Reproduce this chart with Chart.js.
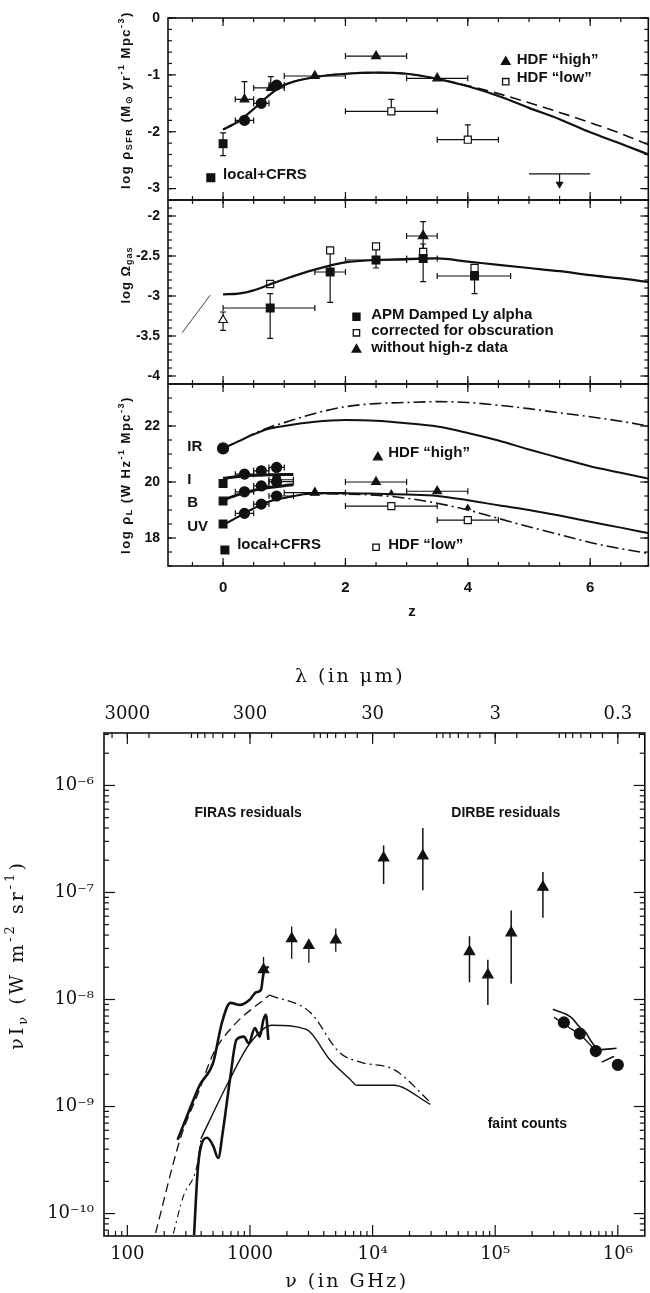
<!DOCTYPE html>
<html>
<head>
<meta charset="utf-8">
<script src="https://cdn.jsdelivr.net/npm/chart.js"></script>
<style>
html, body { margin: 0; padding: 0; background: #fff; }
#wrap { position: relative; width: 650px; height: 1293px; overflow: hidden; background: #fff; }
canvas { position: absolute; left: 0; }
</style>
</head>
<body>
<div id="wrap">
  <canvas id="sfr" width="655" height="220" style="top:0px"></canvas>
  <canvas id="gas" width="655" height="224" style="top:180px"></canvas>
  <canvas id="lum" width="655" height="261" style="top:364px"></canvas>
  <canvas id="cib" width="652" height="653" style="top:640px"></canvas>
</div>
<script>
// ---- redshift panels: rows are [z, value, zLo, zHi, lo, hi]
const zTicks = [0, 2, 4, 6];
const zCurve = [0, 0.25, 0.5, 0.75, 1, 1.5, 2, 2.5, 3, 3.5, 4, 4.5, 5, 5.5, 6, 6.5, 7];
const zBand = [0, 0.25, 0.5, 0.75, 1.0, 1.15];

// log rho_SFR
const sfrTicks = [0, -1, -2, -3];
const sfrLocal = [[0, -2.21, null, null, -2.42, -2.02]];
const sfrCfrs = [[0.35, -1.8, 0.2, 0.5], [0.625, -1.5, 0.5, 0.75], [0.875, -1.18, 0.75, 1.0]];
const sfrHigh = [[0.35, -1.43, 0.2, 0.5, -1.43, -1.12], [0.78, -1.23, 0.5, 1.0, -1.23, -1.03],
                 [1.5, -1.02, 1.0, 2.0], [2.5, -0.67, 2.0, 3.0], [3.5, -1.06, 3.0, 4.0]];
const sfrLow = [[2.75, -1.64, 2.0, 3.5, -1.64, -1.43], [4.0, -2.14, 3.5, 4.5, -2.14, -1.88]];
const sfrLimit = [[5.5, -2.74, 5.0, 6.0, -2.92, -2.74]];
const sfrLimitTip = [[5.5, -2.92]];
const sfrModel = [-1.96, -1.82, -1.6, -1.36, -1.18, -1.04, -0.98, -0.96, -0.98, -1.07, -1.2, -1.37, -1.58, -1.78, -2.01, -2.21, -2.42];
const sfrModelAlt = [-1.96, -1.82, -1.6, -1.36, -1.18, -1.04, -0.98, -0.96, -0.98, -1.07, -1.19, -1.33, -1.49, -1.66, -1.84, -2.03, -2.25];

// log Omega_gas
const gasTicks = [-2, -2.5, -3, -3.5, -4];
const gasApm = [[0.77, -3.15, 0, 1.5, -3.53, -2.97], [1.75, -2.7, 1.5, 2.0, -3.08, -2.45], [2.5, -2.55, 2.0, 3.0, -2.65, -2.4],
                [3.27, -2.53, 3.0, 3.5, -2.82, -2.35], [4.11, -2.75, 3.5, 4.7, -2.97, -2.63]];
const gasCorrected = [[0.77, -2.85], [1.75, -2.43], [2.5, -2.38], [3.27, -2.45], [4.11, -2.65]];
const gasNoHighZ = [[3.27, -2.25, 3.0, 3.5, -2.47, -2.07]];
const gasLocal = [[0, -3.3, null, null, -3.43, -3.2]];
const gasModel = [-2.98, -2.97, -2.93, -2.86, -2.79, -2.67, -2.58, -2.55, -2.54, -2.53, -2.57, -2.61, -2.65, -2.69, -2.74, -2.78, -2.83];
const gasStubZ = [-0.67, -0.21];
const gasStub = [-3.46, -2.99];

// log rho_L
const lumTicks = [18, 20, 22];
const lumIrLocal = [[0, 21.2]];
const lumLocal = [[0, 19.95], [0, 19.32], [0, 18.5]];
const lumI = [[0.35, 20.28, 0.2, 0.5], [0.625, 20.4, 0.5, 0.75], [0.875, 20.52, 0.75, 1.0]];
const lumIsq = [[0.875, 20.08, 0.75, 1.15]];
const lumB = [[0.35, 19.65, 0.2, 0.5], [0.625, 19.86, 0.5, 0.75], [0.875, 20.01, 0.75, 1.15]];
const lumUV = [[0.35, 18.88, 0.2, 0.5], [0.625, 19.21, 0.5, 0.75], [0.875, 19.5, 0.75, 1.15]];
const lumHigh = [[1.5, 19.62, 1.0, 2.0], [2.5, 20.0, 2.0, 3.0], [3.5, 19.67, 3.0, 4.0]];
const lumHighSmall = [[2.75, 19.6], [4.0, 19.08]];
const lumLow = [[2.75, 19.14, 2.0, 3.5], [4.0, 18.64, 3.5, 4.5]];
const irModel = [21.2, 21.45, 21.7, 21.9, 22.0, 22.15, 22.21, 22.19, 22.1, 21.98, 21.75, 21.48, 21.16, 20.86, 20.56, 20.33, 20.1];
const irModelAlt = [21.2, 21.45, 21.72, 21.95, 22.12, 22.45, 22.69, 22.8, 22.84, 22.87, 22.84, 22.74, 22.62, 22.47, 22.33, 22.17, 21.98];
const iModel = [20.13, 20.2, 20.24, 20.26, 20.27, 20.27];
const bModel = [19.36, 19.55, 19.7, 19.8, 19.87, 19.9];
const uvModel = [18.46, 18.76, 19.06, 19.3, 19.43, 19.6, 19.6, 19.58, 19.55, 19.5, 19.35, 19.17, 19.0, 18.8, 18.58, 18.37, 18.15];
const uvModelAlt = [18.46, 18.76, 19.06, 19.3, 19.43, 19.58, 19.57, 19.53, 19.42, 19.24, 19.0, 18.7, 18.4, 18.12, 17.84, 17.62, 17.43];

// ---- background spectrum: rows are [nu (GHz), nu I_nu, , , lo, hi]
const nuTicks = [100, 1000, 1e4, 1e5, 1e6];
const nuTickLabels = ['100', '1000', '10⁴', '10⁵', '10⁶'];
const lambdaTickLabels = ['3000', '300', '30', '3', '0.3'];
const intTicks = [1e-10, 1e-9, 1e-8, 1e-7, 1e-6];
const intTickLabels = ['10⁻¹⁰', '10⁻⁹', '10⁻⁸', '10⁻⁷', '10⁻⁶'];

const firas = [[1290, 1.9e-8, null, null, 1.6e-8, 2.5e-8], [2190, 3.7e-8, null, null, 2.4e-8, 4.8e-8],
               [3020, 3.2e-8, null, null, 2.2e-8, 3.2e-8], [5010, 3.6e-8, null, null, 2.8e-8, 4.6e-8]];
const dirbe = [[12300, 2.1e-7, null, null, 1.2e-7, 2.75e-7], [25700, 2.2e-7, null, null, 1.05e-7, 4.0e-7],
               [61700, 2.8e-8, null, null, 1.45e-8, 3.9e-8], [87100, 1.7e-8, null, null, 8.9e-9, 2.35e-8],
               [135000, 4.2e-8, null, null, 1.4e-8, 6.8e-8], [245000, 1.12e-7, null, null, 5.8e-8, 1.55e-7]];
const faint = [[363000, 6.1e-9], [490000, 4.8e-9], [661000, 3.3e-9], [1000000, 2.45e-9]];

const obsNu = [257, 316, 389, 501, 589, 692, 832, 1000, 1122, 1230, 1288, 1413];
const obsFlux = [4.9e-10, 8.9e-10, 1.58e-9, 2.57e-9, 6.0e-9, 9.3e-9, 8.9e-9, 1.0e-8, 1.17e-8, 1.23e-8, 1.74e-8, 2.04e-8];
const obsLowNu = [350, 372, 389, 447, 501, 550, 603, 692, 776, 891, 977, 1096, 1202, 1288, 1349, 1413];
const obsLowFlux = [6.3e-11, 2.24e-10, 3.7e-10, 5.1e-10, 4.3e-10, 3.3e-10, 6.0e-10, 1.9e-9, 4.2e-9, 4.5e-9, 3.9e-9, 5.4e-9, 4.5e-9, 6.5e-9, 7.2e-9, 4.2e-9];
const modelRiseNu = [170, 269, 389, 501, 724, 1445];
const modelRiseFlux = [6.6e-11, 4.9e-10, 1.45e-9, 3.1e-9, 5.6e-9, 1.1e-8];
const modelFallNu = [1445, 3090, 5370, 7940, 15100, 30200];
const modelFallFlux = [1.1e-8, 7.6e-9, 3.2e-9, 2.6e-9, 2.2e-9, 1.07e-9];
const modelLowNu = [398, 661, 1000, 1514, 2884, 4467, 6607, 7413, 14790, 29510];
const modelLowFlux = [5.0e-10, 1.66e-9, 3.9e-9, 5.75e-9, 5.25e-9, 2.75e-9, 1.78e-9, 1.58e-9, 1.58e-9, 1.05e-9];
const modelTailNu = [237, 286, 368, 398];
const modelTailFlux = [6.5e-11, 1.45e-10, 2.75e-10, 5.0e-10];
const countsNu = [295000, 417000, 490000, 550000, 603000, 708000, 977000];
const countsFlux = [8.1e-9, 6.8e-9, 5.5e-9, 4.9e-9, 4.1e-9, 3.4e-9, 3.5e-9];
const countsAltNu = [302000, 398000, 525000, 631000];
const countsAltFlux = [6.8e-9, 5.5e-9, 4.4e-9, 3.5e-9];
const countsEndNu = [741000, 933000];
const countsEndFlux = [2.6e-9, 2.95e-9];

const sans = "'Liberation Sans', Arial, sans-serif";
const serif = "'DejaVu Serif', 'Liberation Serif', serif";
const ink = '#111';
Chart.defaults.font.family = sans;
Chart.defaults.color = ink;

function steps(from, to, step) {
    var out = [];
    for (var v = from; v <= to + 1e-9; v += step) out.push(Math.round(v * 1000) / 1000);
    return out;
}

function logMinor(lo, hi) {
    var out = [];
    for (var e = lo; e < hi; e++) {
        for (var k = 2; k <= 9; k++) out.push(k * Math.pow(10, e));
    }
    return out;
}

function marks(rows, style, extra) {
    return Object.assign({
        data: rows.map(r => ({x: r[0], y: r[1], xMin: r[2], xMax: r[3], yMin: r[4], yMax: r[5]})),
        pointStyle: style,
        pointRadius: 4.5,
        backgroundColor: ink,
        borderColor: ink,
        borderWidth: 1.2,
        errorBars: true
    }, extra || {});
}

function curve(xs, ys, width, dash) {
    return {
        data: xs.map((x, i) => ({x: x, y: ys[i]})),
        showLine: true,
        pointRadius: 0,
        borderColor: ink,
        borderWidth: width,
        borderDash: dash || [],
        cubicInterpolationMode: 'monotone'
    };
}

// text with _{sub} and ^{sup}
function drawRich(ctx, s, x, y, o) {
    var parts = [], re = /([_^])\{([^}]*)\}|([^_^]+)/g, m;
    while ((m = re.exec(s))) {
        if (m[3]) parts.push({t: m[3], k: 0});
        else parts.push({t: m[2], k: m[1] === '_' ? -1 : 1});
    }
    var size = o.size, w = 0;
    var fontFor = p => (o.bold ? 'bold ' : '') + (p.k ? Math.round(size * 0.68) : size) + 'px ' + o.family;
    ctx.save();
    ctx.letterSpacing = (o.spacing || 0) + 'px';
    parts.forEach(p => { ctx.font = fontFor(p); p.w = ctx.measureText(p.t).width; w += p.w; });
    ctx.translate(x, y);
    if (o.rot) ctx.rotate(o.rot * Math.PI / 180);
    ctx.textBaseline = 'middle';
    ctx.textAlign = 'left';
    ctx.fillStyle = ink;
    var cx = o.align === 'left' ? 0 : o.align === 'right' ? -w : -w / 2;
    parts.forEach(p => {
        ctx.font = fontFor(p);
        ctx.fillText(p.t, cx, p.k < 0 ? size * 0.3 : p.k > 0 ? -size * 0.38 : 0);
        cx += p.w;
    });
    ctx.restore();
}

const errorBarPlugin = {
    id: 'errorBars',
    beforeDatasetsDraw(chart) {
        const ctx = chart.ctx;
        ctx.save();
        ctx.strokeStyle = ink;
        chart.data.datasets.forEach((ds, i) => {
            if (!ds.errorBars) return;
            const meta = chart.getDatasetMeta(i), xs = meta.xScale, ys = meta.yScale;
            const cap = ds.capSize == null ? 3 : ds.capSize;
            ctx.lineWidth = ds.errWidth || 1.2;
            ds.data.forEach(p => {
                const px = xs.getPixelForValue(p.x), py = ys.getPixelForValue(p.y);
                ctx.beginPath();
                if (p.xMin != null) {
                    const a = xs.getPixelForValue(p.xMin), b = xs.getPixelForValue(p.xMax);
                    ctx.moveTo(a, py); ctx.lineTo(b, py);
                    if (cap) {
                        ctx.moveTo(a, py - cap); ctx.lineTo(a, py + cap);
                        ctx.moveTo(b, py - cap); ctx.lineTo(b, py + cap);
                    }
                }
                if (p.yMin != null) {
                    const a = ys.getPixelForValue(p.yMin), b = ys.getPixelForValue(p.yMax);
                    ctx.moveTo(px, a); ctx.lineTo(px, b);
                    if (cap) {
                        ctx.moveTo(px - cap, a); ctx.lineTo(px + cap, a);
                        ctx.moveTo(px - cap, b); ctx.lineTo(px + cap, b);
                    }
                }
                ctx.stroke();
            });
        });
        ctx.restore();
    }
};

// box around the plot with inward ticks on all sides
const framePlugin = {
    id: 'frame',
    afterDatasetsDraw(chart, args, o) {
        const ctx = chart.ctx, a = chart.chartArea, xs = chart.scales.x, ys = chart.scales.y;
        ctx.save();
        ctx.strokeStyle = ink;
        ctx.lineWidth = 1.6;
        ctx.strokeRect(a.left, a.top, a.right - a.left, a.bottom - a.top);
        ctx.lineWidth = 1.2;
        const inside = (s, v) => v >= Math.min(s.min, s.max) && v <= Math.max(s.min, s.max);
        const seg = (x1, y1, x2, y2) => { ctx.beginPath(); ctx.moveTo(x1, y1); ctx.lineTo(x2, y2); ctx.stroke(); };
        const xt = (vals, len, bottom, top) => vals.forEach(v => {
            if (!inside(xs, v)) return;
            const p = xs.getPixelForValue(v);
            if (bottom) seg(p, a.bottom, p, a.bottom - len);
            if (top) seg(p, a.top, p, a.top + len);
        });
        const yt = (vals, len) => vals.forEach(v => {
            if (!inside(ys, v)) return;
            const p = ys.getPixelForValue(v);
            seg(a.left, p, a.left + len, p);
            seg(a.right, p, a.right - len, p);
        });
        const hasTop = !!o.xTopMajor;
        xt(o.xMajor, o.major, true, !hasTop);
        xt(o.xMinor, o.minor, true, !hasTop);
        if (hasTop) {
            xt(o.xTopMajor, o.major, false, true);
            xt(o.xTopMinor, o.minor, false, true);
        }
        yt(o.yMajor, o.major);
        yt(o.yMinor, o.minor);
        ctx.restore();
    }
};

const notesPlugin = {
    id: 'notes',
    afterDraw(chart, args, o) {
        const ctx = chart.ctx, xs = chart.scales.x, ys = chart.scales.y;
        (o.items || []).forEach(n => {
            if (n.mark) {
                ctx.save();
                ctx.fillStyle = n.open ? '#fff' : ink;
                ctx.strokeStyle = ink;
                ctx.lineWidth = 1.3;
                Chart.helpers.drawPoint(ctx, {pointStyle: n.mark, radius: n.r || 5, rotation: 0, borderWidth: 1.3},
                    xs.getPixelForValue(n.mx), ys.getPixelForValue(n.my));
                ctx.restore();
            }
            if (n.t) {
                const x = n.px != null ? n.px : xs.getPixelForValue(n.x);
                const y = n.py != null ? n.py : ys.getPixelForValue(n.y);
                drawRich(ctx, n.t, x, y, Object.assign({size: 15, bold: true, family: sans, align: 'left'}, n));
            }
        });
    }
};

function zPanel(id, cfg) {
    return new Chart(document.getElementById(id), {
        type: 'scatter',
        data: {datasets: cfg.datasets},
        options: {
            responsive: false,
            animation: false,
            layout: {padding: {top: cfg.padTop, bottom: cfg.padBottom, left: 0, right: 1}},
            plugins: {
                legend: {display: false},
                tooltip: {enabled: false},
                frame: {
                    xMajor: zTicks, xMinor: steps(-0.5, 7, 0.5),
                    yMajor: cfg.yTicks, yMinor: steps(cfg.yMin, cfg.yMax, cfg.yStep),
                    major: 8, minor: 4
                },
                notes: {items: cfg.notes}
            },
            scales: {
                x: {
                    type: 'linear', min: -0.9, max: 6.95,
                    display: cfg.showX,
                    grid: {display: false, drawTicks: false},
                    border: {display: false},
                    ticks: {padding: 13, font: {size: 15, weight: 'bold'}, callback: v => String(v)},
                    afterBuildTicks: s => { s.ticks = zTicks.map(v => ({value: v})); },
                    afterFit: s => { s.height = cfg.showX ? 59 : 0; }
                },
                y: {
                    type: 'linear', min: cfg.yMin, max: cfg.yMax,
                    grid: {display: false, drawTicks: false},
                    border: {display: false},
                    ticks: {padding: 8, font: {size: 14, weight: 'bold'}, callback: v => String(v)},
                    afterBuildTicks: s => { s.ticks = cfg.yTicks.map(v => ({value: v})); },
                    afterFit: s => { s.width = 168; }
                }
            }
        },
        plugins: [errorBarPlugin, framePlugin, notesPlugin]
    });
}

zPanel('sfr', {
    padTop: 18, padBottom: 20, showX: false,
    yMin: -3.2, yMax: 0, yStep: 0.2, yTicks: sfrTicks,
    datasets: [
        curve(zCurve, sfrModelAlt, 1.6, [11, 6]),
        curve(zCurve, sfrModel, 2.2),
        marks(sfrLocal, 'rect', {pointRadius: 5.5}),
        marks(sfrCfrs, 'circle', {pointRadius: 5}),
        marks(sfrHigh, 'triangle', {pointRadius: 5}),
        marks(sfrLow, 'rect', {pointRadius: 5, backgroundColor: '#fff'}),
        marks(sfrLimit, 'circle', {pointRadius: 0, capSize: 0}),
        marks(sfrLimitTip, 'triangle', {pointRadius: 3.5, rotation: 180})
    ],
    notes: [
        {mark: 'triangle', mx: 4.62, my: -0.77, t: 'HDF “high”', x: 4.8, y: -0.74},
        {mark: 'rect', open: true, r: 4.5, mx: 4.62, my: -1.12, t: 'HDF “low”', x: 4.8, y: -1.05},
        {mark: 'rect', r: 5.5, mx: -0.2, my: -2.81, t: 'local+CFRS', x: 0.0, y: -2.75},
        {t: 'log ρ_{SFR} (M_{⊙} yr^{-1} Mpc^{-3})', px: 126, py: 100, rot: -90, size: 13, spacing: 1.5, align: 'center'}
    ]
});

zPanel('gas', {
    padTop: 20, padBottom: 20, showX: false,
    yMin: -4.1, yMax: -1.8, yStep: 0.1, yTicks: gasTicks,
    datasets: [
        curve(zCurve, gasModel, 2.2),
        curve(gasStubZ, gasStub, 0.8),
        marks(gasLocal, 'triangle', {pointRadius: 5, backgroundColor: '#fff'}),
        marks(gasApm, 'rect', {pointRadius: 5.5}),
        marks(gasCorrected, 'rect', {pointRadius: 5, backgroundColor: '#fff'}),
        marks(gasNoHighZ, 'triangle', {pointRadius: 5.5})
    ],
    notes: [
        {mark: 'rect', r: 5, mx: 2.18, my: -3.26, t: 'APM Damped Ly alpha', x: 2.42, y: -3.24},
        {mark: 'rect', open: true, r: 4.5, mx: 2.18, my: -3.46, t: 'corrected for obscuration', x: 2.42, y: -3.43},
        {mark: 'triangle', mx: 2.18, my: -3.67, t: 'without high-z data', x: 2.42, y: -3.65},
        {t: 'log Ω_{gas}', px: 126, py: 95, rot: -90, size: 13, spacing: 1, align: 'center'}
    ]
});

zPanel('lum', {
    padTop: 20, padBottom: 0, showX: true,
    yMin: 17, yMax: 23.5, yStep: 0.5, yTicks: lumTicks,
    datasets: [
        curve(zCurve, irModelAlt, 1.6, [12, 4, 2, 4]),
        curve(zCurve, irModel, 2),
        curve(zCurve, uvModelAlt, 1.6, [12, 4, 2, 4]),
        curve(zCurve, uvModel, 2),
        curve(zBand, iModel, 3),
        curve(zBand, bModel, 3),
        marks(lumIrLocal, 'circle', {pointRadius: 5.5}),
        marks(lumLocal, 'rect', {pointRadius: 5.5}),
        marks(lumI, 'circle', {pointRadius: 5}),
        marks(lumIsq, 'rect', {pointRadius: 5}),
        marks(lumB, 'circle', {pointRadius: 5}),
        marks(lumUV, 'circle', {pointRadius: 5}),
        marks(lumHigh, 'triangle', {pointRadius: 5}),
        marks(lumHighSmall, 'triangle', {pointRadius: 3}),
        marks(lumLow, 'rect', {pointRadius: 5, backgroundColor: '#fff'})
    ],
    notes: [
        {t: 'IR', x: -0.585, y: 21.25},
        {t: 'I', x: -0.585, y: 20.07},
        {t: 'B', x: -0.585, y: 19.25},
        {t: 'UV', x: -0.585, y: 18.39},
        {mark: 'rect', r: 5.5, mx: 0.03, my: 17.57, t: 'local+CFRS', x: 0.23, y: 17.75},
        {mark: 'triangle', mx: 2.53, my: 20.88, t: 'HDF “high”', x: 2.7, y: 21.04},
        {mark: 'rect', open: true, r: 4.5, mx: 2.5, my: 17.67, t: 'HDF “low”', x: 2.7, y: 17.75},
        {t: 'log ρ_{L} (W Hz^{-1} Mpc^{-3})', px: 126, py: 111, rot: -90, size: 13, spacing: 1.5, align: 'center'},
        {t: 'z', px: 412, py: 248, size: 15, align: 'center'}
    ]
});

// ---- background spectrum
const lambdaMinorNu = logMinor(-1, 4).map(l => 3e5 / l);
const logAxis = (min, max, extra) => Object.assign({
    type: 'logarithmic', min: min, max: max,
    grid: {display: false, drawTicks: false},
    border: {display: false}
}, extra);

new Chart(document.getElementById('cib'), {
    type: 'scatter',
    data: {
        datasets: [
            curve(modelRiseNu, modelRiseFlux, 1.3, [9, 5]),
            curve(modelFallNu, modelFallFlux, 1.3, [9, 4, 2, 4]),
            curve(modelTailNu, modelTailFlux, 1.1, [7, 4, 2, 4]),
            curve(modelLowNu, modelLowFlux, 1.4),
            curve(obsNu, obsFlux, 2.6),
            curve(obsLowNu, obsLowFlux, 2.6),
            curve(countsNu, countsFlux, 1.6),
            curve(countsAltNu, countsAltFlux, 1.4),
            curve(countsEndNu, countsEndFlux, 1.6),
            marks(firas, 'triangle', {pointRadius: 6, capSize: 0, errWidth: 1.3}),
            marks(dirbe, 'triangle', {pointRadius: 6, capSize: 0, errWidth: 1.5}),
            marks(faint, 'circle', {pointRadius: 5.5})
        ]
    },
    options: {
        responsive: false,
        animation: false,
        layout: {padding: {top: 0, bottom: 0, left: 0, right: 5}},
        plugins: {
            legend: {display: false},
            tooltip: {enabled: false},
            frame: {
                xMajor: nuTicks, xMinor: logMinor(1, 7),
                xTopMajor: nuTicks, xTopMinor: lambdaMinorNu,
                yMajor: intTicks, yMinor: logMinor(-11, -5),
                major: 11, minor: 5
            },
            notes: {items: [
                {t: 'FIRAS residuals', x: 966, y: 5.5e-7, size: 14, align: 'center'},
                {t: 'DIRBE residuals', x: 1.22e5, y: 5.5e-7, size: 14, align: 'center'},
                {t: 'faint counts', x: 1.83e5, y: 6.8e-10, size: 14, align: 'center'},
                {t: 'λ (in μm)', px: 350, py: 37, size: 19, spacing: 2.5, bold: false, family: serif, align: 'center'},
                {t: 'ν (in GHz)', px: 347, py: 642, size: 19, spacing: 2.5, bold: false, family: serif, align: 'center'},
                {t: 'νI_{ν} (W m^{-2} sr^{-1})', px: 18, py: 315, size: 19, spacing: 3, bold: false, family: serif, rot: -90, align: 'center'}
            ]}
        },
        scales: {
            x: logAxis(64.5, 1.66e6, {
                position: 'bottom',
                ticks: {padding: 8, font: {family: serif, size: 18}, callback: (v, i) => nuTickLabels[i]},
                afterBuildTicks: s => { s.ticks = nuTicks.map(v => ({value: v})); },
                afterFit: s => { s.height = 57; }
            }),
            xTop: logAxis(64.5, 1.66e6, {
                position: 'top',
                ticks: {padding: 8, font: {family: serif, size: 18}, callback: (v, i) => lambdaTickLabels[i]},
                afterBuildTicks: s => { s.ticks = nuTicks.map(v => ({value: v})); },
                afterFit: s => { s.height = 93; }
            }),
            y: logAxis(6.17e-11, 3.09e-6, {
                position: 'left',
                ticks: {padding: 10, font: {family: serif, size: 18}, callback: (v, i) => intTickLabels[i]},
                afterBuildTicks: s => { s.ticks = intTicks.map(v => ({value: v})); },
                afterFit: s => { s.width = 104; }
            })
        }
    },
    plugins: [errorBarPlugin, framePlugin, notesPlugin]
});
</script>
</body>
</html>
